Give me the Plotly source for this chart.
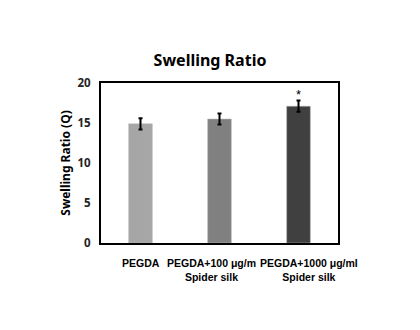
import plotly.graph_objects as go

categories = ["PEGDA", "PEGDA+100 μg/m<br>Spider silk", "PEGDA+1000 μg/ml<br>Spider silk"]
values = [14.9, 15.5, 17.1]
errors = [0.7, 0.7, 0.7]
colors = ["#a6a6a6", "#808080", "#404040"]
sig = ["", "", "*"]
label_shift = [0, -8, 10]

fig = go.Figure()
fig.add_trace(go.Bar(
    x=categories, y=values,
    marker=dict(color=colors, line=dict(color="#bbbbbb", width=0.5)),
    width=0.3,
    error_y=dict(type="data", array=errors, color="black", thickness=2, width=2),
))
for c, v, e, s in zip(categories, values, errors, sig):
    if s:
        fig.add_annotation(x=c, y=v + e, text=s, showarrow=False, yanchor="bottom",
                           font=dict(size=13, color="black", family="Liberation Sans"), yshift=-3)
for c, dx in zip(categories, label_shift):
    fig.add_annotation(x=c, y=0, yref="y", text="<b>%s</b>" % c, showarrow=False,
                       yanchor="top", xshift=dx, yshift=-12,
                       font=dict(size=10.5, color="black", family="Liberation Sans"))

fig.update_layout(
    width=420, height=330,
    margin=dict(l=101, r=82, t=83, b=87),
    paper_bgcolor="white", plot_bgcolor="white",
    title=dict(text="<b>Swelling Ratio</b>", x=0.5, xanchor="center", y=0.818, yanchor="middle",
               font=dict(size=16, color="black", family="Noto Sans")),
    showlegend=False,
    bargap=0.7,
)
fig.update_xaxes(type="category", range=[-0.5, 2.5], showline=True, linecolor="black",
                 linewidth=2, mirror=True, ticks="", showticklabels=False)
fig.update_yaxes(range=[0, 20], dtick=5, showline=True, linecolor="black", linewidth=2, mirror=True,
                 showgrid=False, zeroline=False, ticks="", ticklabelstandoff=6,
                 tickfont=dict(size=11.5, color="#222222", family="Noto Sans", weight="bold"),
                 title=dict(text="<b>Swelling Ratio (Q)</b>", standoff=4,
                            font=dict(size=12, color="black", family="Noto Sans")))
fig.write_html("out.html")
